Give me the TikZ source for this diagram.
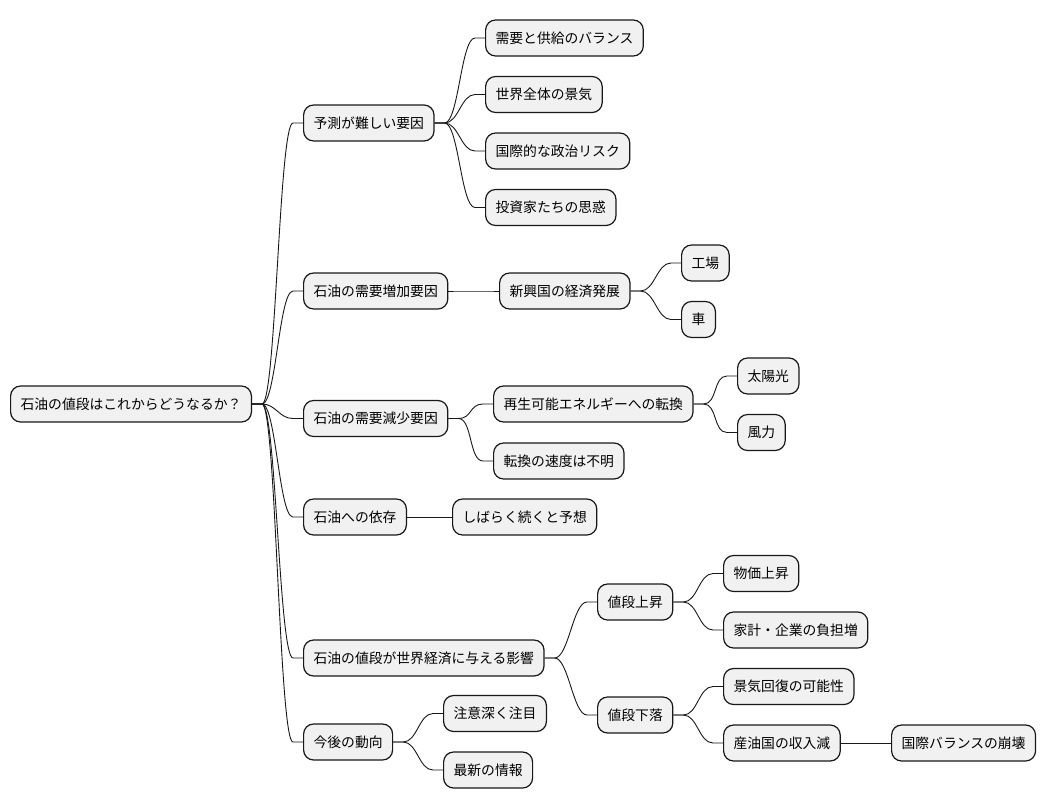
\documentclass[tikz,border=0pt]{standalone}
\usepackage{fontspec}
\setmainfont{Noto Sans CJK JP}
\usetikzlibrary{calc}

\definecolor{boxfill}{HTML}{F1F1F1}
\definecolor{boxline}{HTML}{181818}

\tikzset{
  topic/.style={draw=boxline, fill=boxfill, line width=1.2pt, rounded corners=10pt,
    minimum height=36pt, inner xsep=10pt, inner ysep=0pt,
    text height=12pt, text depth=2pt, font=\fontsize{13.8}{16}\selectfont, anchor=west},
  branch/.style={draw=boxline, line width=0.9pt}
}

% connector: short stub, S-curve, short stub
\newcommand{\mmlink}[2]{%
  \draw[branch] (#1.east) -- ++(10,0) .. controls +(14,0) and +(-14,0) .. ($(#2.west)+(-10,0)$) -- (#2.west);}

\begin{document}
\begin{tikzpicture}[x=1pt,y=-1pt]
    \useasboundingbox (0,0) rectangle (1048,809);

    % Root
    \node[topic] (root) at (10,404) {石油の値段はこれからどうなるか？};

    % Branch: predicting
    \node[topic] (yosoku) at (303,123) {予測が難しい要因};
    \node[topic] (kinko) at (485,38) {需要と供給のバランス};
    \node[topic] (keiki) at (485,94.5) {世界全体の景気};
    \node[topic] (seiji) at (485,151) {国際的な政治リスク};
    \node[topic] (shiwaku) at (485,207.5) {投資家たちの思惑};

    % Branch: demand up
    \node[topic] (zoka) at (303,291) {石油の需要増加要因};
    \node[topic] (shinkou) at (499,291) {新興国の経済発展};
    \node[topic] (kojo) at (681,263) {工場};
    \node[topic] (kuruma) at (681,319.5) {車};

    % Branch: demand down
    \node[topic] (genshou) at (303,418.5) {石油の需要減少要因};
    \node[topic] (saisei) at (493,404) {再生可能エネルギーへの転換};
    \node[topic] (taiyo) at (737,376) {太陽光};
    \node[topic] (furyoku) at (737,432.5) {風力};
    \node[topic] (sokudo) at (493,461) {転換の速度は不明};

    % Branch: dependence
    \node[topic] (izon) at (303,517) {石油への依存};
    \node[topic] (tsuzuku) at (452,517) {しばらく続くと予想};

    % Branch: impact
    \node[topic] (eikyo) at (303,658) {石油の値段が世界経済に与える影響};
    \node[topic] (joushou) at (597,602) {値段上昇};
    \node[topic] (bukka) at (723,573.5) {物価上昇};
    \node[topic] (futan) at (723,630) {家計・企業の負担増};
    \node[topic] (geraku) at (597,715) {値段下落};
    \node[topic] (kaifuku) at (723,686.5) {景気回復の可能性};
    \node[topic] (shunyu) at (723,743) {産油国の収入減};
    \node[topic] (hokai) at (891,743) {国際バランスの崩壊};

    % Branch: outlook
    \node[topic] (kongo) at (303,742) {今後の動向};
    \node[topic] (chui) at (443,713.5) {注意深く注目};
    \node[topic] (saishin) at (443,770) {最新の情報};

    % Connectors
    \foreach \a/\b in {root/yosoku, root/zoka, root/genshou, root/izon, root/eikyo, root/kongo,
        yosoku/kinko, yosoku/keiki, yosoku/seiji, yosoku/shiwaku,
        zoka/shinkou, shinkou/kojo, shinkou/kuruma,
        genshou/saisei, genshou/sokudo, saisei/taiyo, saisei/furyoku,
        izon/tsuzuku,
        eikyo/joushou, eikyo/geraku, joushou/bukka, joushou/futan,
        geraku/kaifuku, geraku/shunyu, shunyu/hokai,
        kongo/chui, kongo/saishin} {
        \mmlink{\a}{\b}
    }
\end{tikzpicture}
\end{document}
